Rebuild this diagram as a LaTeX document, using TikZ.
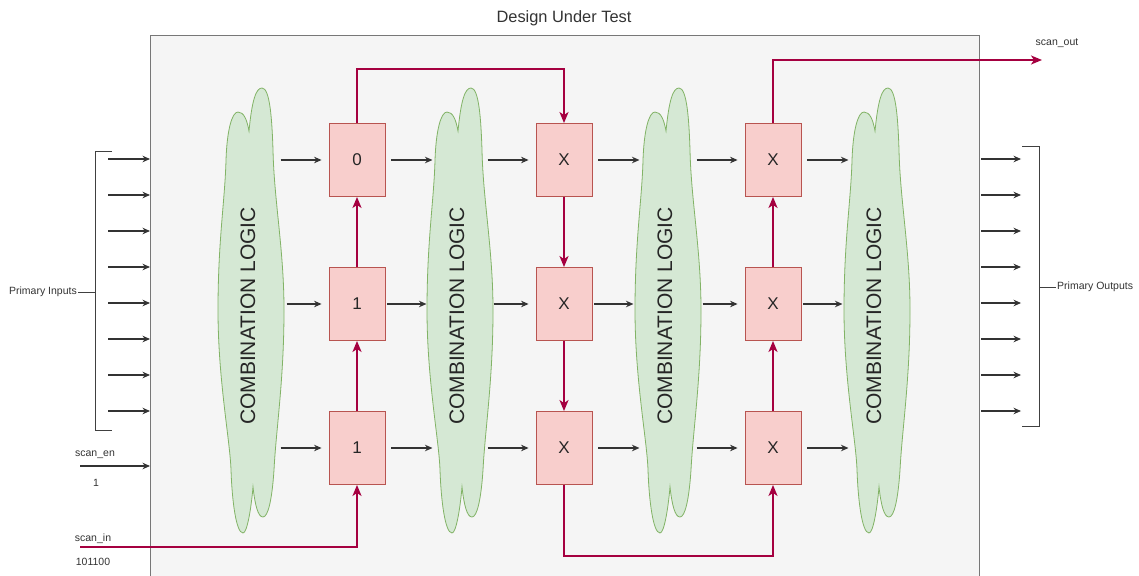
\documentclass[tikz,border=0pt]{standalone}
\usepackage{fontspec}
\setmainfont{Liberation Sans}
\usetikzlibrary{arrows.meta}
\definecolor{scanred}{HTML}{A50040}
\definecolor{ffill}{HTML}{F8CECC}
\definecolor{fdraw}{HTML}{B85450}
\definecolor{cfill}{HTML}{D5E8D4}
\definecolor{cdraw}{HTML}{82B366}
\definecolor{dutfill}{HTML}{F5F5F5}
\definecolor{dutdraw}{HTML}{777777}
\tikzset{
 ff/.style={draw=fdraw, fill=ffill, line width=0.9pt, minimum width=56pt, minimum height=73pt, inner sep=0pt, font=\fontsize{17}{20}\selectfont, text=black!85},
 sig/.style={-{Stealth[length=7.5pt,width=6.5pt]}, line width=1.1pt, draw=black!80},
 scan/.style={-{Stealth[length=11pt,width=9pt,inset=3pt]}, line width=2pt, draw=scanred},
 cloudshape/.style={fill=cfill, draw=cdraw, line width=0.8pt},
 lbl/.style={font=\fontsize{10.5}{12}\selectfont, text=black!80, inner sep=1pt},
 brk/.style={line width=0.9pt, draw=black!75},
}
\begin{document}
\begin{tikzpicture}[x=1pt,y=-1pt]
\useasboundingbox (0,0) rectangle (1139,575);
\fill[white] (0,0) rectangle (1139,575);
\fill[dutfill] (150,35) rectangle (979,576);
\draw[dutdraw, line width=0.8pt] (150,577) -- (150,35) -- (979,35) -- (979,577);
\node[font=\fontsize{16.4}{19}\selectfont, text=black!80] (title) at (564,18) {Design Under Test};

% clouds
\foreach \n/\cx in {1/250,2/459,3/667,4/876}{
 \draw[cloudshape, shift={(\cx,0)}] (-1,131)
   .. controls (2,100) and (6,88) .. (12,88)
   .. controls (20,88) and (22,120) .. (23,150)
   .. controls (24,200) and (34,250) .. (34,310)
   .. controls (34,380) and (26,430) .. (24,470)
   .. controls (22,500) and (18,517) .. (13,517)
   .. controls (8,517) and (5,505) .. (3,487)
   .. controls (1,510) and (-3,533) .. (-7,533)
   .. controls (-14,533) and (-18,500) .. (-19,470)
   .. controls (-20,440) and (-32,380) .. (-32,310)
   .. controls (-32,240) and (-25,200) .. (-24,160)
   .. controls (-23,130) and (-18,112) .. (-12,112)
   .. controls (-6,112) and (-3,120) .. (-1,131) -- cycle;
 \node[rotate=90, font=\fontsize{21}{24}\selectfont, text=black!85] (cl\n) at (\cx-2,316) {COMBINATION LOGIC};
}

% flip-flops
\node[ff] (b11) at (357,160) {0};
\node[ff] (b21) at (357,304) {1};
\node[ff] (b31) at (357,448) {1};
\node[ff] (b12) at (564,160) {X};
\node[ff] (b22) at (564,304) {X};
\node[ff] (b32) at (564,448) {X};
\node[ff] (b13) at (773,160) {X};
\node[ff] (b23) at (773,304) {X};
\node[ff] (b33) at (773,448) {X};

% data arrows
\foreach \r in {1,3}{\foreach \c in {1,2,3}{
 \draw[sig] ([xshift=-48pt]b\r\c.west) -- ([xshift=-7pt]b\r\c.west);
 \draw[sig] ([xshift=6pt]b\r\c.east) -- ([xshift=47pt]b\r\c.east);
}}
\foreach \c in {1,2,3}{
 \draw[sig] ([xshift=-42pt]b2\c.west) -- ([xshift=-7pt]b2\c.west);
 \draw[sig] ([xshift=2pt]b2\c.east) -- ([xshift=41pt]b2\c.east);
}

% primary inputs / outputs
\foreach \i in {0,...,7}{
 \coordinate (pia\i) at (108,159+36*\i);
 \coordinate (pib\i) at (150,159+36*\i);
 \draw[sig] (pia\i) -- (pib\i);
 \coordinate (poa\i) at (981,159+36*\i);
 \coordinate (pob\i) at (1021,159+36*\i);
 \draw[sig] (poa\i) -- (pob\i);
}
\draw[brk] (112,151) -- (95,151) -- (95,430) -- (112,430);
\node[lbl, anchor=east] (pin) at (78,292) {Primary Inputs};
\draw[brk] (pin.east) -- (95,292);
\draw[brk] (1022,146) -- (1039,146) -- (1039,426) -- (1022,426);
\node[lbl, anchor=west] (pout) at (1056,287) {Primary Outputs};
\draw[brk] (1039,287) -- (pout.west);

% scan enable
\coordinate (sena) at (80,466);
\coordinate (senb) at (150,466);
\draw[sig] (sena) -- (senb);
\node[lbl] (senl) at (95,455) {scan\_en};
\node[lbl] (senv) at (96,483) {1};

% scan chain
\coordinate (sin) at (80,547);
\coordinate (top1) at (0,69);
\coordinate (top2) at (0,60);
\coordinate (bot) at (0,556);
\coordinate (sout) at (1042,60);
\node[lbl] (sinl) at (93,539) {scan\_in};
\node[lbl] (sinv) at (93,562) {101100};
\node[lbl] (soutl) at (1057,43) {scan\_out};
\draw[scan] (sin) -| (b31.south);
\draw[scan] (b31.north) -- (b21.south);
\draw[scan] (b21.north) -- (b11.south);
\draw[scan] (b11.north) -- (b11.north |- top1) -| (b12.north);
\draw[scan] (b12.south) -- (b22.north);
\draw[scan] (b22.south) -- (b32.north);
\draw[scan] (b32.south) -- (b32.south |- bot) -| (b33.south);
\draw[scan] (b33.north) -- (b23.south);
\draw[scan] (b23.north) -- (b13.south);
\draw[scan] (b13.north) -- (b13.north |- top2) -- (sout);
\end{tikzpicture}
\end{document}
